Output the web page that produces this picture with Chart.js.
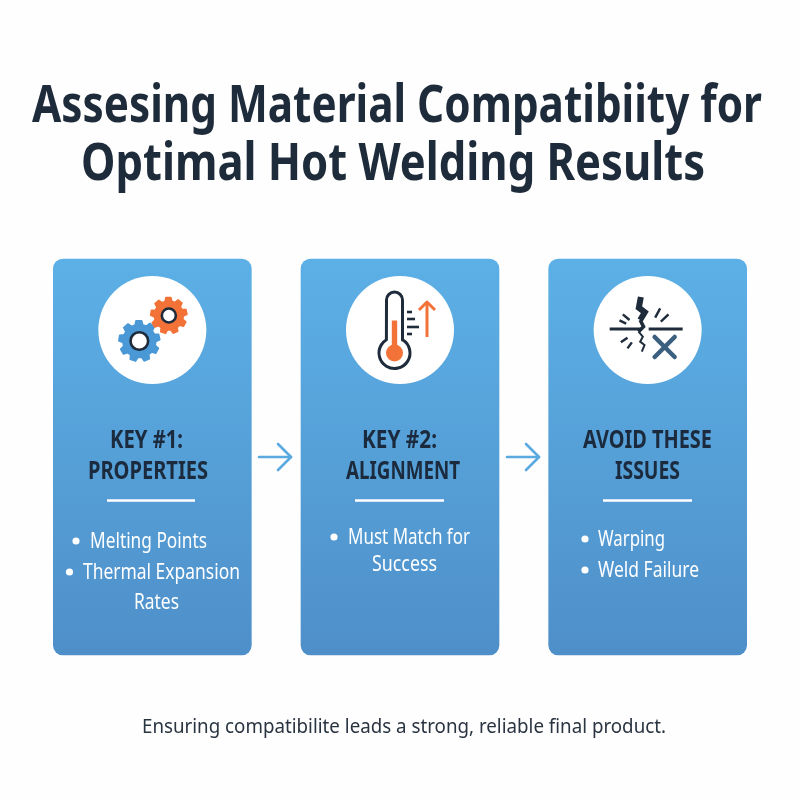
<!DOCTYPE html>
<html>
<head>
<meta charset="utf-8">
<title>Assesing Material Compatibiity for Optimal Hot Welding Results</title>
<script src="https://cdn.jsdelivr.net/npm/chart.js@4"></script>
<style>
	html, body { margin: 0; padding: 0; background: #fefefe; }
	canvas { display: block; }
</style>
</head>
<body>
<canvas id="infoChart" width="800" height="800"></canvas>
<script>
const titleLines = ["Assesing Material Compatibiity for", "Optimal Hot Welding Results"];
const categories = ["Properties", "Alignment", "Issues"];
const panelSpans = [[259, 655], [259, 655], [259, 655]];
const circleCenters = [330, 330, 330];
const headLines = [["KEY #1:", "PROPERTIES"], ["KEY #2:", "ALIGNMENT"], ["AVOID THESE", "ISSUES"]];
const bulletLines = [
	["Melting Points", "Thermal Expansion", "Rates"],
	["Must Match for", "Success"],
	["Warping", "Weld Failure"],
];
const footerLine = "Ensuring compatibilite leads a strong, reliable final product.";

const INK = "#1e2b3a";
const ORANGE = "#f27238";
const BLUE = "#4a98d6";
const FONT = '"Noto Sans", sans-serif';

// text with a target width, the original type is narrower than anything installed
const fitText = (ctx, text, left, right, baseline, font, color) => {
	ctx.save();
	ctx.font = font;
	ctx.fillStyle = color;
	ctx.textAlign = "left";
	ctx.textBaseline = "alphabetic";
	ctx.translate(left, baseline);
	ctx.scale((right - left) / ctx.measureText(text).width, 1);
	ctx.fillText(text, 0, 0);
	ctx.restore();
};

const strokePath = (ctx, points, color, width) => {
	ctx.strokeStyle = color;
	ctx.lineWidth = width;
	ctx.beginPath();
	points.forEach(([x, y], i) => (i ? ctx.lineTo(x, y) : ctx.moveTo(x, y)));
	ctx.stroke();
};

const drawGear = (ctx, cx, cy, outer, root, teeth, ringR, color) => {
	ctx.fillStyle = color;
	ctx.strokeStyle = color;
	ctx.lineWidth = 1.5;
	ctx.lineJoin = "round";
	ctx.beginPath();
	const step = (Math.PI * 2) / teeth;
	for (let i = 0; i < teeth; i++) {
		const a = i * step - 0.2;
		[
			[root, a - step * 0.34],
			[outer, a - step * 0.2],
			[outer, a + step * 0.2],
			[root, a + step * 0.34],
		].forEach(([r, t]) => ctx.lineTo(cx + r * Math.cos(t), cy + r * Math.sin(t)));
	}
	ctx.closePath();
	ctx.fill();
	ctx.stroke();
	ctx.fillStyle = "#fff";
	ctx.strokeStyle = INK;
	ctx.lineWidth = 2.6;
	ctx.beginPath();
	ctx.arc(cx, cy, ringR, 0, Math.PI * 2);
	ctx.fill();
	ctx.stroke();
};

const drawGears = (ctx, cx, cy) => {
	drawGear(ctx, cx - 13, cy + 11, 20.5, 16.5, 9, 8.8, BLUE);
	drawGear(ctx, cx + 16.5, cy - 14.5, 18.2, 14.5, 9, 7, ORANGE);
};

const drawThermometer = (ctx, cx, cy) => {
	const bx = cx - 5.5;
	const by = cy + 23;
	ctx.lineCap = "round";
	ctx.lineJoin = "round";
	ctx.strokeStyle = INK;
	ctx.lineWidth = 3;
	ctx.beginPath();
	ctx.arc(bx, cy - 30, 8, Math.PI, 0);
	ctx.lineTo(bx + 8, by - 13);
	ctx.arc(bx, by, 15.5, -Math.PI / 2 + 0.55, -Math.PI / 2 - 0.55 + Math.PI * 2);
	ctx.closePath();
	ctx.stroke();
	ctx.fillStyle = ORANGE;
	ctx.fillRect(bx - 2.7, cy - 9.5, 5.4, 28);
	ctx.beginPath();
	ctx.arc(bx, by, 8.5, 0, Math.PI * 2);
	ctx.fill();
	ctx.lineCap = "butt";
	[[-18, 5], [-11, 8], [-3, 12], [4, 5]].forEach(([dy, w]) => {
		strokePath(ctx, [[cx + 7, cy + dy], [cx + 7 + w, cy + dy]], INK, 2.6);
	});
	strokePath(ctx, [[cx + 27, cy + 7], [cx + 27, cy - 28]], ORANGE, 3);
	strokePath(ctx, [[cx + 19, cy - 20], [cx + 27, cy - 28], [cx + 35, cy - 20]], ORANGE, 3);
};

const drawCrack = (ctx, cx, cy) => {
	const x0 = cx - 97.5;
	const y0 = cy - 75;
	const at = (pts) => pts.map(([x, y]) => [x0 + x / 3, y0 + y / 3]);
	ctx.lineCap = "butt";
	ctx.lineJoin = "miter";
	strokePath(ctx, [[cx - 38, cy - 1], [cx - 6, cy - 1]], INK, 3);
	strokePath(ctx, [[cx + 1, cy - 1], [cx + 35, cy - 1]], INK, 3);
	strokePath(ctx, at([[272, 126], [266, 158], [284, 172], [270, 195]]), INK, 6);
	strokePath(ctx, at([[270, 195], [280, 215], [265, 230]]), INK, 3.6);
	strokePath(ctx, at([[265, 230], [278, 245], [270, 260], [283, 270], [275, 290]]), INK, 2);
	[
		[[218, 178], [238, 195]],
		[[208, 196], [228, 206]],
		[[330, 160], [315, 188]],
		[[355, 178], [332, 200]],
		[[212, 262], [232, 248]],
		[[232, 280], [245, 262]],
	].forEach((seg) => strokePath(ctx, at(seg), INK, 2.4));
	ctx.lineCap = "round";
	strokePath(ctx, [[cx + 7, cy + 7], [cx + 27, cy + 27]], "#3b5f7f", 4.5);
	strokePath(ctx, [[cx + 27, cy + 7], [cx + 7, cy + 27]], "#3b5f7f", 4.5);
};

const iconDrawers = [drawGears, drawThermometer, drawCrack];

// left/right edges of each head line, rule, bullet line, per panel
const headEdges = [[[110, 183], [88, 208]], [[362, 437], [346, 460]], [[583, 712], [615, 680]]];
const headBase = [448, 479];
const ruleEdges = [[107, 195], [355, 444], [603, 692]];
const bulletEdges = [
	[[90, 207, 548, 76], [83, 240, 579, 69.5], [134, 179, 609, null]],
	[[348, 470, 544, 334], [372, 437, 571, null]],
	[[598, 665, 546, 585], [598, 699, 577, 585]],
];
const arrowLefts = [259, 507];

const artworkPlugin = {
	id: "artwork",
	afterDatasetsDraw(chart) {
		const { ctx, scales } = chart;
		ctx.save();

		fitText(ctx, titleLines[0], 32, 762, 122, `bold 52px ${FONT}`, INK);
		fitText(ctx, titleLines[1], 81, 705, 180, `bold 52px ${FONT}`, INK);

		categories.forEach((name, i) => {
			const cx = scales.x.getPixelForValue(i);
			const cy = scales.y.getPixelForValue(circleCenters[i]);
			iconDrawers[i](ctx, cx, cy);

			headLines[i].forEach((line, j) => {
				fitText(ctx, line, headEdges[i][j][0], headEdges[i][j][1], headBase[j], `bold 25px ${FONT}`, "#1b2a3c");
			});

			ctx.lineCap = "butt";
			strokePath(ctx, [[ruleEdges[i][0], 500.5], [ruleEdges[i][1], 500.5]], "#fff", 2.4);

			bulletLines[i].forEach((line, j) => {
				const [left, right, base, dot] = bulletEdges[i][j];
				fitText(ctx, line, left, right, base, `21px ${FONT}`, "#fff");
				if (dot !== null) {
					ctx.fillStyle = "#fff";
					ctx.beginPath();
					ctx.arc(dot, base - 7, 3.6, 0, Math.PI * 2);
					ctx.fill();
				}
			});
		});

		arrowLefts.forEach((x) => {
			ctx.lineCap = "round";
			ctx.lineJoin = "round";
			strokePath(ctx, [[x, 457], [x + 32, 457]], "#5aa9e0", 2.6);
			strokePath(ctx, [[x + 19, 444], [x + 32, 457], [x + 19, 470]], "#5aa9e0", 2.6);
		});

		fitText(ctx, footerLine, 142, 666, 733, `19px ${FONT}`, "#2a3441");
		ctx.restore();
	},
};

const panelFill = (context) => {
	const { chart } = context;
	if (!chart.chartArea) return "#5599d4";
	const y = chart.scales.y;
	const gradient = chart.ctx.createLinearGradient(0, y.getPixelForValue(259), 0, y.getPixelForValue(655));
	gradient.addColorStop(0, "#5cb0e6");
	gradient.addColorStop(1, "#4f8fc9");
	return gradient;
};

new Chart("infoChart", {
	type: "bar",
	data: {
		labels: categories,
		datasets: [
			{
				type: "line",
				data: circleCenters,
				showLine: false,
				pointRadius: 54,
				pointHoverRadius: 54,
				pointBackgroundColor: "#fff",
				pointBorderWidth: 0,
				order: 0,
			},
			{
				data: panelSpans,
				backgroundColor: panelFill,
				borderRadius: 10,
				borderSkipped: false,
				barThickness: 198,
				order: 1,
			},
		],
	},
	options: {
		responsive: false,
		animation: false,
		devicePixelRatio: 1,
		layout: { autoPadding: false, padding: { left: 28.5, right: 28.5, top: 0, bottom: 0 } },
		plugins: { legend: { display: false }, tooltip: { enabled: false } },
		scales: {
			x: { display: false },
			y: { display: false, reverse: true, min: 0, max: 800 },
		},
	},
	plugins: [artworkPlugin],
});
</script>
</body>
</html>
